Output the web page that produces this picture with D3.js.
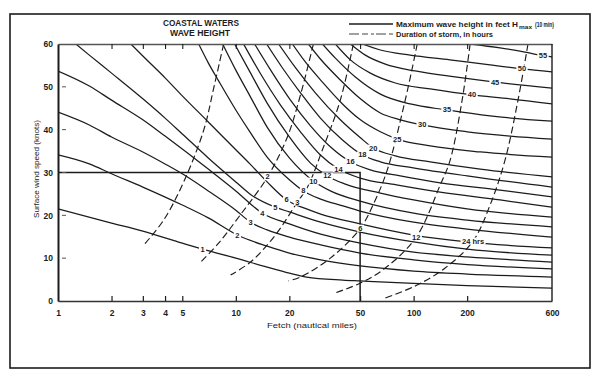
<!DOCTYPE html>
<html><head><meta charset="utf-8">
<script src="https://d3js.org/d3.v7.min.js"></script>
<style>body{margin:0;background:#fff}svg{display:block}</style>
</head><body>
<svg id="c" width="600" height="379"></svg>
<script>
// ---- data (fetch in nautical miles, wind in knots) ----
const fetchTicks = [1,2,3,4,5,10,20,50,100,200,600];
const topTicks = [2,3,4,5,10,20,50,100,200];
const windTicks = [0,10,20,30,40,50,60];
const heights = [1,2,3,4,5,6,8,10,12,14,16,18,20,25,30,35,40,45,50,55];

const h1 = [[1,21.5],[2,18.2],[3,16.3],[5,13.5],[6.5,12.1],[10,10.0],[15,7.9],[20,6.5],[25,5.6],[40,4.9],[50,4.7],[100,4.1],[200,3.6],[600,3.0]];
const h2 = [[1,34.1],[1.5,32.0],[2,29.7],[3,26.6],[5,22.4],[7,19.4],[10.2,15.4],[15,12.8],[20,11.2],[30,9.6],[50,8.2],[100,7.0],[200,6.3],[600,5.6]];
const h3 = [[1,44.1],[1.5,41.1],[2,38.3],[3,34.8],[4,32.0],[5,29.7],[7,25.7],[10,21.2],[12.1,18.4],[15,16.6],[20,14.9],[30,13.1],[50,11.2],[100,9.6],[200,8.5],[600,7.5]];
const h4 = [[1,53.7],[1.5,50.2],[2,46.9],[3,42.3],[4,38.5],[5,35.5],[7,30.8],[10,25.7],[14.1,20.5],[20,18.0],[30,15.6],[50,13.5],[100,11.4],[200,10.3],[600,9.1]];
const h5 = [[1.26,60],[1.5,57.4],[2,53.2],[3,47.2],[4,42.7],[5,39.0],[7,33.4],[10,27.8],[12,25.0],[16.7,21.9],[20,20.8],[30,18.4],[50,16.1],[100,13.8],[200,12.1],[600,10.7]];
const h6 = [[2.57,60],[3,57.2],[4,52.1],[5,47.9],[7,41.8],[10,35.3],[12,32.0],[15,27.8],[19.3,23.6],[25,21.5],[30,20.3],[50,18.0],[100,15.4],[200,13.8],[600,12.4]];
const h8 = [[6.18,60],[7,55.6],[8,51.4],[10,44.6],[12,39.5],[15,33.6],[20,28.3],[24,25.7],[30,23.8],[40,22.2],[50,21.0],[100,18.4],[200,16.8],[600,14.9]];
const h10 = [[8.43,60],[10,53.9],[12,47.9],[15,40.6],[20,33.4],[27.3,28.0],[34,25.7],[50,23.3],[100,20.5],[200,18.9],[600,17.3]];
const h12 = [[9.85,60],[12,53.5],[15,46.2],[20,38.3],[26.3,32.2],[32.7,29.2],[41.3,27.3],[65,25.2],[100,23.6],[200,21.5],[600,19.6]];
const h14 = [[11.06,60],[13.8,53.0],[17.8,45.8],[23.1,39.5],[29.9,34.1],[37.8,30.8],[50,28.7],[80,27.1],[141,25.4],[306,23.6],[600,21.9]];
const h16 = [[12.75,60],[15.7,53.9],[20.3,46.9],[26.3,40.9],[34,36.0],[44.1,32.5],[57.1,30.6],[84.1,29.2],[141,27.6],[306,25.9],[600,24.3]];
const h18 = [[14.9,60],[18.3,54.4],[23.1,48.6],[29.9,42.7],[39.8,37.6],[51.5,34.1],[65,32.5],[99.5,31.1],[200,29.2],[600,26.6]];
const h20 = [[17.4,60],[21.7,54.4],[28,48.6],[38.7,42.3],[50.2,38.1],[59.3,35.7],[78.9,33.9],[124,32.5],[237,30.8],[600,29.0]];
const h25 = [[20.8,60],[24.6,55.8],[30.7,51.1],[39.8,46.0],[50.2,42.3],[65,39.5],[80.9,37.8],[124,36.2],[237,34.8],[600,33.6]];
const h30 = [[25.6,60],[29.9,56.5],[38.7,51.6],[50.2,47.2],[65,43.9],[84.1,42.3],[111.7,41.1],[200,39.5],[349,38.5],[600,37.8]];
const h35 = [[30.7,60],[36.3,56.7],[47,52.3],[65,48.3],[95.7,46.0],[154,44.6],[269,43.2],[600,42.0]];
const h40 = [[36.3,60],[44.1,56.3],[57.1,53.2],[78.9,50.9],[124,49.5],[213,48.1],[349,47.2],[600,46.0]];
const h45 = [[44.1,60],[53.5,57.4],[69.3,55.3],[102,53.7],[171,52.3],[287,51.1],[600,49.7]];
const h50 = [[51.5,60],[65,58.6],[95.7,57.4],[160,56.3],[269,55.1],[407,54.2],[600,53.5]];
const h55 = [[208,60],[306,59.1],[423,58.1],[534,57.3],[600,57.0]];
const heightCurves = [h1,h2,h3,h4,h5,h6,h8,h10,h12,h14,h16,h18,h20,h25,h30,h35,h40,h45,h50,h55];
const heightLabelFetch = [6.5,10.2,12.1,14.1,16.7,19.3,24,27.3,32.7,37.8,44.1,51.5,59.3,80.9,111.7,154,213,287,407,534];

const dur1 = [[8.54,60],[7.51,49.7],[6.6,39.9],[5.09,27.8],[3.93,18.9],[3.04,13.1]];
const dur2 = [[27.3,60],[23.1,48.1],[19.5,38.3],[15.1,29.0],[10.6,20.1],[8.0,13.5],[6.35,9.1]];
const dur3 = [[45.8,60],[38.7,46.9],[30.7,35.3],[25.3,26.6],[22.2,23.1],[16.7,15.4],[12.1,9.1],[9.35,6.1]];
const dur6 = [[104.8,60],[89.7,46.9],[71.1,30.6],[60.9,23.6],[50.2,17.0],[34.0,10.0],[23.1,5.6],[19.8,4.7]];
const dur12 = [[207.8,60],[187.4,46.9],[160.5,32.9],[141.1,27.1],[103.4,14.9],[69.3,7.7],[50.2,4.2],[36.3,1.9]];
const dur24 = [[439.6,60],[386.4,46.9],[326.6,32.9],[269.1,22.4],[216,14.0],[150.4,7.7],[102,3.5],[69.3,0.7]];
const durationCurves = [dur1,dur2,dur3,dur6,dur12,dur24];
const durationLabels = ["", "2", "3", "6", "12", "24 hrs"];
const durationLabelPos = [null,[15.1,29.0],[22.2,23.1],[50.2,17.0],[103.4,14.9],[216,14.0]];

const guideWind = 30;   // horizontal example line
const guideFetch = 50;  // vertical example line

// ---- drawing ----
const FONT = "'Liberation Sans Narrow','Liberation Sans',Arial,sans-serif";
const INK = "#1c1c1c";
const svg = d3.select('#c');
svg.append('rect').attr('width',600).attr('height',379).attr('fill','#fff');

const x = d3.scaleLog().domain([1,600]).range([58,552]);
const y = d3.scaleLinear().domain([0,60]).range([301,44]);

// outer frame
svg.append('rect').attr('x',10).attr('y',14).attr('width',580).attr('height',354)
  .attr('fill','none').attr('stroke',INK).attr('stroke-width',1.6);

svg.append('clipPath').attr('id','plot').append('rect')
  .attr('x',58).attr('y',44).attr('width',494).attr('height',257);

const plot = svg.append('g').attr('clip-path','url(#plot)');

const solidLine = d3.line().x(d=>x(d[0])).y(d=>y(d[1])).curve(d3.curveMonotoneX);
const dashLine = d3.line().x(d=>x(d[0])).y(d=>y(d[1])).curve(d3.curveCatmullRom.alpha(0.5));

heightCurves.forEach(c=>{
  plot.append('path').attr('d',solidLine(c)).attr('fill','none')
    .attr('stroke',INK).attr('stroke-width',1.25);
});
durationCurves.forEach(c=>{
  plot.append('path').attr('d',dashLine(c)).attr('fill','none')
    .attr('stroke',INK).attr('stroke-width',1.15).attr('stroke-dasharray','7,3.5');
});

// example guide lines
plot.append('path').attr('d', d3.line()([[x(1),y(guideWind)],[x(guideFetch),y(guideWind)],[x(guideFetch),y(0)]]))
  .attr('fill','none').attr('stroke',INK).attr('stroke-width',1.5);

// axes
const xAxis = d3.axisBottom(x).tickValues(fetchTicks).tickFormat(d3.format('d'))
  .tickSize(-5).tickSizeOuter(0).tickPadding(9);
const gx = svg.append('g').attr('transform','translate(0,301)').call(xAxis);
gx.selectAll('.tick line').filter(d=>d===1||d===600).remove();
gx.select('.domain').attr('stroke','#333').attr('stroke-width',1.5);
gx.selectAll('.tick line').attr('stroke',INK).attr('stroke-width',1.2);
gx.selectAll('text').attr('font-family',FONT).attr('font-size',8.5).attr('font-weight','bold').attr('fill',INK);

const gt = svg.append('g').attr('transform','translate(0,44)')
  .call(d3.axisTop(x).tickValues(topTicks).tickFormat('').tickSize(-5).tickSizeOuter(0));
gt.select('.domain').attr('stroke','#555').attr('stroke-width',1.3);
gt.selectAll('.tick line').attr('stroke',INK).attr('stroke-width',1.1);

const yAxis = d3.axisLeft(y).tickValues(windTicks).tickFormat(d3.format('d')).tickSize(0).tickPadding(5);
const gy = svg.append('g').attr('transform','translate(58,0)').call(yAxis);
gy.select('.domain').attr('stroke',INK).attr('stroke-width',2);
gy.selectAll('text').attr('font-family',FONT).attr('font-size',8.5).attr('font-weight','bold').attr('fill',INK);
svg.append('g').selectAll('line').data(windTicks.filter(d=>d>0&&d<60)).join('line')
  .attr('x1',62).attr('x2',66).attr('y1',d=>y(d)).attr('y2',d=>y(d))
  .attr('stroke','#555').attr('stroke-width',1);

// right border of plot
svg.append('line').attr('x1',552).attr('x2',552).attr('y1',44).attr('y2',301)
  .attr('stroke',INK).attr('stroke-width',1.4);

// labels with white knock-out
function windAt(curve,f){
  for(let i=0;i<curve.length-1;i++){
    const [f0,w0]=curve[i],[f1,w1]=curve[i+1];
    if(f>=f0&&f<=f1){const t=(Math.log(f)-Math.log(f0))/(Math.log(f1)-Math.log(f0));return w0+t*(w1-w0);}
  }
  return curve[curve.length-1][1];
}
const lab = svg.append('g');
function addLabel(px,py,txt,size){
  const t = lab.append('text').attr('x',px).attr('y',py).attr('text-anchor','middle')
    .attr('dominant-baseline','central').attr('font-family',FONT).attr('font-size',size||8)
    .attr('font-weight','bold').attr('fill',INK).text(txt);
  const b = t.node().getBBox();
  lab.insert('rect',()=>t.node()).attr('x',b.x-1.5).attr('y',b.y+1).attr('width',b.width+3)
    .attr('height',b.height-2).attr('fill','#fff');
}
heightCurves.forEach((c,i)=>{
  const f = heightLabelFetch[i];
  addLabel(x(f), y(windAt(c,f)), String(heights[i]), 7.5);
});
durationCurves.forEach((c,i)=>{
  const p = durationLabelPos[i];
  if(p) addLabel(x(p[0]), y(p[1]), durationLabels[i], 7.5);
});

// titles
const title = svg.append('g').attr('font-family',FONT).attr('font-weight','bold').attr('fill',INK);
title.append('text').attr('x',201).attr('y',26).attr('text-anchor','middle').attr('font-size',9)
  .attr('textLength',76).attr('lengthAdjust','spacingAndGlyphs').text('COASTAL WATERS');
title.append('text').attr('x',200).attr('y',36).attr('text-anchor','middle').attr('font-size',9)
  .attr('textLength',60).attr('lengthAdjust','spacingAndGlyphs').text('WAVE HEIGHT');

// legend
svg.append('line').attr('x1',349).attr('x2',393).attr('y1',24).attr('y2',24).attr('stroke',INK).attr('stroke-width',1.3);
svg.append('line').attr('x1',349).attr('x2',393).attr('y1',34).attr('y2',34).attr('stroke','#444')
  .attr('stroke-width',1.1).attr('stroke-dasharray','10,3,6,3,3,2');
const legFont = s => s.attr('font-family',FONT).attr('font-weight','bold').attr('fill',INK).attr('lengthAdjust','spacingAndGlyphs');
svg.append('text').attr('x',396).attr('y',27).attr('font-size',8).attr('textLength',122)
  .call(legFont).text('Maximum wave height in feet H');
svg.append('text').attr('x',519).attr('y',28.5).attr('font-size',5.5).attr('textLength',13)
  .call(legFont).text('max');
svg.append('text').attr('x',535).attr('y',27).attr('font-size',8).attr('textLength',19)
  .call(legFont).text('(10 min)');
svg.append('text').attr('x',396).attr('y',37).attr('font-size',8).attr('textLength',97)
  .call(legFont).text('Duration of storm, in hours');

// axis titles
svg.append('text').attr('transform','translate(39,169) rotate(-90)').attr('text-anchor','middle')
  .attr('font-family',FONT).attr('font-size',7.5).attr('fill',INK).attr('textLength',98)
  .attr('lengthAdjust','spacingAndGlyphs').text('Surface wind speed (knots)');
svg.append('text').attr('x',312).attr('y',328).attr('text-anchor','middle')
  .attr('font-family',FONT).attr('font-size',8).attr('fill',INK).attr('textLength',90)
  .attr('lengthAdjust','spacingAndGlyphs').text('Fetch (nautical miles)');
</script>
</body></html>
